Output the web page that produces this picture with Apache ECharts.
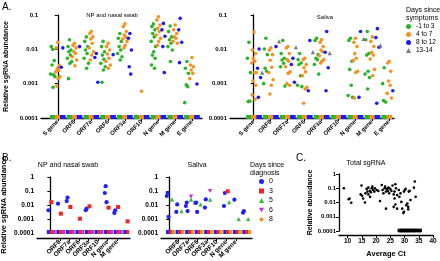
<!DOCTYPE html>
<html>
<head>
<meta charset="utf-8">
<script src="https://cdn.jsdelivr.net/npm/echarts@6/dist/echarts.min.js"></script>
<style>
html, body { margin: 0; padding: 0; background: #fff; }
#main { width: 440px; height: 261px; }
</style>
</head>
<body>
<div id="main"></div>
<script>
// categories and tick labels
var genes = ['S gene', 'ORF8', 'ORF7a', 'ORF6', 'ORF3a', 'ORF10', 'N gene', 'M gene', 'E gene'];
var logLabels = { '-4': '0.0001', '-3': '0.001', '-2': '0.01', '-1': '0.1', '0': '1' };
var ctTicks = [10, 15, 20, 25, 30, 35, 40];
var lodValue = 0.0001;

// A. NP and nasal swab, days since symptoms (one list per gene)
var npEarly = [
    [0.01, 0.012, 0.0047, 0.0035, 0.0018, 0.0019, 0.0016, 0.00078],
    [0.019, 0.012, 0.0096, 0.0085, 0.0068, 0.0055, 0.0044, 0.0039, 0.0014],
    [0.023, 0.017, 0.012, 0.0096, 0.0076, 0.0055, 0.0039, 0.0028],
    [0.017, 0.012, 0.0085, 0.0068, 0.0051, 0.0039, 0.0031, 0.0025, 0.0011],
    [0.029, 0.021, 0.017, 0.012, 0.0096, 0.0076, 0.0061, 0.0049],
    [],
    [0.055, 0.046, 0.037, 0.029, 0.023, 0.017, 0.012, 0.0085, 0.0068, 0.0055, 0.0035, 0.0028],
    [0.048, 0.033, 0.023, 0.019, 0.015, 0.012, 0.0096, 0.0044],
    [0.0044, 0.0028, 0.002, 0.00092, 0.00082, 0.00028]
];
var npMid = [
    [0.016, 0.011, 0.0034, 0.0027, 0.0024, 0.0022, 0.0016, 0.0014, 0.00085],
    [0.015, 0.013, 0.011, 0.0085, 0.0076, 0.0061, 0.0049, 0.0033],
    [0.033, 0.029, 0.023, 0.02, 0.015, 0.011, 0.0085, 0.0068, 0.0049],
    [0.015, 0.012, 0.0096, 0.0073, 0.0055, 0.0044, 0.0035, 0.0028],
    [0.055, 0.046, 0.033, 0.026, 0.023, 0.02, 0.017, 0.013, 0.011],
    [0.0006],
    [0.089, 0.071, 0.051, 0.041, 0.033, 0.026, 0.021, 0.017, 0.013],
    [0.051, 0.037, 0.029, 0.023, 0.021, 0.017, 0.015],
    [0.0058, 0.0035, 0.0031, 0.0025, 0.002, 0.0014]
];
var npLate = [
    [0.011, 0.003],
    [0.012],
    [0.0076, 0.0058, 0.0011],
    [0.007],
    [0.029, 0.021, 0.0096, 0.0031, 0.0019],
    [],
    [0.057, 0.037, 0.024, 0.012, 0.0021],
    [0.08, 0.037, 0.016, 0.0041],
    [0.00098]
];

// A. Saliva
var salEarly = [
    [0.016, 0.0055, 0.0021, 0.0003, 0.00031],
    [0.021, 0.0102, 0.007, 0.0028, 0.0023, 0.001],
    [0.018, 0.0075, 0.0055, 0.0049, 0.0039, 0.0031, 0.00085],
    [0.0075, 0.005, 0.004, 0.0036, 0.0017, 0.0009, 0.00082],
    [0.021, 0.018, 0.007, 0.0055, 0.005, 0.0036, 0.0019],
    [],
    [0.021, 0.018, 0.0045, 0.0026, 0.0009, 0.00045, 0.0004],
    [0.033, 0.019, 0.0075, 0.0068, 0.0023, 0.0019, 0.0015, 0.0007],
    [0.0029, 0.001, 0.00029, 0.00032]
];
var salMid = [
    [0.032, 0.0095, 0.0075, 0.0055, 0.0045, 0.004, 0.0021, 0.0021, 0.0012, 0.0009, 0.00047, 0.00035],
    [0.011, 0.0095, 0.007, 0.0048, 0.003, 0.0021, 0.0013, 0.0009, 0.0005],
    [0.012, 0.011, 0.0075, 0.005, 0.0045, 0.0031, 0.0022, 0.002, 0.001, 0.0009],
    [0.0055, 0.005, 0.0036, 0.0029, 0.0022, 0.0017, 0.00078, 0.0007, 0.00027],
    [0.019, 0.016, 0.012, 0.0095, 0.0085, 0.0065, 0.005, 0.0045, 0.004],
    [],
    [0.021, 0.016, 0.012, 0.0075, 0.0055, 0.0047, 0.0023, 0.0021, 0.00038],
    [0.023, 0.017, 0.012, 0.0082, 0.0068, 0.0052, 0.0026, 0.0017],
    [0.0045, 0.004, 0.0023, 0.0012, 0.0009, 0.00052, 0.00038]
];
var salLate = [
    [0.0102, 0.0028, 0.0015, 0.0004],
    [0.012],
    [0.0055, 0.0036, 0.0011],
    [0.018, 0.00062],
    [0.033, 0.0082, 0.0029, 0.00062],
    [],
    [0.033, 0.0004],
    [0.04, 0.022, 0.0115, 0.00027],
    [0.0029, 0.00062]
];
var salLatest = [[0.0021], [0.017], [0.0115], [0.0083], [0.0078], [], [0.02], [0.013], [0.0011]];

// B. days since diagnosis
var bNpDay0 = [[0.0042], [0.0125], [0.034, 0.019], [], [0.0055, 0.0042], [], [0.22, 0.072, 0.016], [0.0042, 0.0027], []];
var bNpDay3 = [[0.016], [0.0024], [0.0072], [0.00105], [0.008], [], [0.0065], [0.0072], [0.00068]];
var bNpDay6 = [[], [], [], [], [], [], [], [], []];
var bSalDay0 = [[0.072, 0.044, 0.0014], [0.011, 0.0032], [0.015, 0.0085, 0.0037], [0.015, 0.014, 0.0032], [0.025, 0.0065], [], [0.072, 0.0085], [0.024], [0.0037, 0.0028]];
var bSalDay3 = [[], [], [], [], [], [], [0.095], [], []];
var bSalDay5 = [[0.025], [0.0037], [0.024], [0.011], [0.024], [], [0.016], [0.001], [0.001]];
var bSalDay6 = [[], [], [0.04], [], [0.1], [], [], [], []];
var bSalDay8 = [[], [], [], [], [], [], [], [], []];

// C. total sgRNA vs average Ct
var ctDetected = [8.7, 10.4, 10.7, 11.3, 14.9, 14.6, 15.1, 15.5, 16.1, 16.7, 17.0, 17.3, 17.9, 18.5, 18.7, 19.0, 19.6, 19.4,
    16.3, 17.3, 18.2, 17.9, 20.2, 20.8, 21.4, 22.0, 22.3, 22.6, 23.0, 23.2, 23.8, 24.2, 24.4, 23.5, 24.6, 25.0, 25.4, 25.8,
    26.2, 26.5, 26.8, 27.0, 27.4, 26.5, 28.0, 28.6, 28.2, 28.9, 29.8, 30.1, 30.4, 30.6, 23.5, 29.2, 29.8, 31.0, 31.3, 31.5,
    31.8, 32.1, 31.3, 33.3, 33.9, 33.6, 26.8, 27.4, 26.2, 29.6];
var abundDetected = [0.1, 0.017, 0.019, 0.0095, 0.155, 0.037, 0.03, 0.019, 0.01, 0.09, 0.058, 0.11, 0.065, 0.1, 0.13, 0.076, 0.1, 0.058,
    0.044, 0.037, 0.052, 0.025, 0.076, 0.065, 0.0125, 0.17, 0.076, 0.044, 0.1, 0.13, 0.09, 0.065, 0.11, 0.058, 0.044, 0.09, 0.065, 0.155,
    0.037, 0.058, 0.19, 0.1, 0.033, 0.019, 0.076, 0.044, 0.025, 0.011, 0.058, 0.076, 0.09, 0.0065, 0.0037, 0.0037, 0.0022, 0.0085, 0.0049, 0.058,
    0.065, 0.015, 0.0033, 0.11, 0.025, 0.3, 0.0072, 0.0037, 0.0049, 0.0018];
var ctUndetected = [28.1, 28.6, 29.0, 29.4, 29.9, 30.3, 30.8, 31.2, 31.7, 32.0, 32.6, 33.1, 33.5, 34.0, 34.6, 35.2, 35.6];

var FONT = 'Liberation Sans';
var spread = [0, -0.09, 0.09, -0.04, 0.05, -0.13, 0.13, 0.02, -0.06, 0.1, -0.11, 0.07];

function groupData(byGene, shift, stripW, withStrip) {
    var out = [];
    if (withStrip) {
        genes.forEach(function (g, gi) {
            out.push({ value: [gi + shift, lodValue], symbol: 'rect', symbolSize: [stripW, 4], symbolOffset: [0, -1] });
        });
    }
    byGene.forEach(function (vals, gi) {
        vals.forEach(function (v, k) {
            out.push([gi + shift + spread[k % spread.length], v]);
        });
    });
    return out;
}

function scat(name, grid, data, color, symbol, size) {
    return {
        type: 'scatter', name: name, xAxisIndex: grid, yAxisIndex: grid,
        data: data, symbol: symbol, symbolSize: size,
        itemStyle: { color: color, opacity: 1 }, silent: true
    };
}

function geneAxis(grid, min, max, fs, offset) {
    var idx = genes.map(function (g, i) { return i; });
    return {
        type: 'value', gridIndex: grid, min: min, max: max, offset: offset,
        axisLine: { onZero: false, lineStyle: { color: '#000', width: 1.3 } },
        axisTick: { customValues: idx, length: 3, lineStyle: { color: '#000' } },
        axisLabel: {
            customValues: idx, rotate: 45, margin: 3, fontSize: fs, fontWeight: 'bold',
            color: '#000', fontFamily: FONT,
            formatter: function (v) { return genes[Math.round(v)]; }
        },
        splitLine: { show: false }
    };
}

function logAxis(grid, max, fs, name, gap, nfs) {
    return {
        type: 'log', logBase: 10, gridIndex: grid, min: lodValue, max: max,
        axisLine: { show: true, lineStyle: { color: '#000', width: 1.3 } },
        axisTick: { show: true, length: 3, lineStyle: { color: '#000' } },
        axisLabel: {
            fontSize: fs, fontWeight: 'bold', color: '#000', margin: 3, fontFamily: FONT,
            formatter: function (v) { return logLabels[Math.round(Math.log10(v))]; }
        },
        splitLine: { show: false },
        name: name, nameLocation: 'middle', nameGap: gap,
        nameTextStyle: { fontSize: nfs, fontWeight: 'bold', color: '#000', fontFamily: FONT }
    };
}

function lodLine() {
    return {
        silent: true, symbol: 'none', label: { show: false },
        lineStyle: { color: '#888', type: 'dotted', width: 1 },
        data: [{ yAxis: lodValue }]
    };
}

var green = '#25b525', orange = '#f8901f', blue = '#1a1af5', gray = '#7a7a7a';
var bBlue = '#1f1fff', bRed = '#f52020', bGreen = '#2fbf2f', bPurple = '#c02ce0', bOrange = '#f8901f';
var invTri = 'path://M0,0 L10,0 L5,9 Z';

var series = [];
// A left
var s0 = scat('-1 to 3', 0, groupData(npEarly, -0.3, 5.6, true), green, 'circle', 3.6);
s0.markLine = lodLine();
series.push(s0);
series.push(scat('4 to 7', 0, groupData(npMid, 0.0, 5.6, true), orange, 'circle', 3.6));
series.push(scat('8 to 12', 0, groupData(npLate, 0.3, 5.6, true), blue, 'circle', 3.6));
// A right
var s1 = scat('-1 to 3', 1, groupData(salEarly, -0.28, 5.6, true), green, 'circle', 3.6);
s1.markLine = lodLine();
series.push(s1);
series.push(scat('4 to 7', 1, groupData(salMid, 0.02, 5.6, true), orange, 'circle', 3.6));
series.push(scat('8 to 12', 1, groupData(salLate, 0.32, 5.6, true), blue, 'circle', 3.6));
series.push(scat('13-14', 1, groupData(salLatest, 0.5, 5, false), gray, 'triangle', 4.2));
// B left
var s2 = scat('0', 2, groupData(bNpDay0, -0.2, 3.2, true), bBlue, 'circle', 4.2);
s2.markLine = lodLine();
series.push(s2);
series.push(scat('3', 2, groupData(bNpDay3, 0.1, 3.2, true), bRed, 'rect', 4));
series.push(scat('6', 2, groupData(bNpDay6, 0.4, 3.2, true), bPurple, invTri, 4.2));
// B right
var s3 = scat('0', 3, groupData(bSalDay0, -0.15, 3.2, true), bBlue, 'circle', 4.2);
s3.markLine = lodLine();
series.push(s3);
series.push(scat('3', 3, groupData(bSalDay3, 0.15, 3.2, true), bRed, 'rect', 4));
series.push(scat('5', 3, groupData(bSalDay5, 0.3, 3.2, false), bGreen, 'triangle', 4.2));
series.push(scat('6', 3, groupData(bSalDay6, 0.3, 3.2, false), bPurple, invTri, 4.2));
series.push(scat('8', 3, groupData(bSalDay8, 0.45, 3.2, true), bOrange, 'diamond', 4.6));
// C
var cPts = ctDetected.map(function (ct, i) { return [ct, abundDetected[i]]; });
var cNd = ctUndetected.map(function (ct) { return { value: [ct, lodValue], symbol: 'rect', symbolSize: [3, 3.5], symbolOffset: [0, -0.5] }; });
var s4 = scat('total', 4, cNd.concat(cPts), '#000', 'circle', 2.6);
s4.markLine = lodLine();
series.push(s4);

var option = {
    backgroundColor: '#fff',
    animation: false,
    textStyle: { fontFamily: FONT },
    grid: [
        { left: 41, top: 15, width: 161, height: 103, containLabel: false, outerBoundsMode: 'none' },
        { left: 230, top: 15, width: 164, height: 103, containLabel: false, outerBoundsMode: 'none' },
        { left: 37, top: 177, width: 93, height: 56, containLabel: false, outerBoundsMode: 'none' },
        { left: 161, top: 177, width: 91, height: 56, containLabel: false, outerBoundsMode: 'none' },
        { left: 339, top: 174, width: 94, height: 57, containLabel: false, outerBoundsMode: 'none' }
    ],
    xAxis: [
        geneAxis(0, -1, 8.6, 6, 0),
        geneAxis(1, -1.4, 8.3, 6, 0),
        geneAxis(2, -1.4, 8.35, 6.5, 5),
        geneAxis(3, -0.85, 8.7, 6.5, 5),
        {
            type: 'value', gridIndex: 4, min: 7, max: 40, offset: 4,
            axisLine: { onZero: false, lineStyle: { color: '#000', width: 1.3 } },
            axisTick: { customValues: ctTicks, length: 3, lineStyle: { color: '#000' } },
            axisLabel: { customValues: ctTicks, fontSize: 6.5, fontWeight: 'bold', color: '#000', margin: 3, fontFamily: FONT },
            splitLine: { show: false },
            name: 'Average Ct', nameLocation: 'middle', nameGap: 15,
            nameTextStyle: { fontSize: 7.5, fontWeight: 'bold', color: '#000', fontFamily: FONT }
        }
    ],
    yAxis: [
        logAxis(0, 0.1, 6, 'Relative sgRNA abundance', 31, 7),
        logAxis(1, 0.1, 6, '', 20, 7),
        logAxis(2, 1, 6.5, 'Relative sgRNA abundance', 29, 7.5),
        logAxis(3, 1, 6.5, '', 20, 7),
        logAxis(4, 1, 6, 'Relative abundance', 24, 7)
    ],
    legend: [
        {
            data: ['-1 to 3', '4 to 7', '8 to 12', '13-14'],
            orient: 'vertical', left: 406, top: 23, padding: 0,
            itemWidth: 5, itemHeight: 5, itemGap: 1,
            textStyle: { fontSize: 6.5, color: '#000', fontFamily: FONT }
        },
        {
            data: ['0', '3', '5', '6', '8'],
            orient: 'vertical', left: 259, top: 178, padding: 0,
            itemWidth: 5, itemHeight: 5, itemGap: 2.5,
            textStyle: { fontSize: 7, color: '#000', fontFamily: FONT }
        }
    ],
    graphic: [
        { type: 'text', x: 2, y: 2, style: { text: 'A.', font: '10px ' + FONT, fill: '#000' } },
        { type: 'text', x: 2, y: 153, style: { text: 'B.', font: '10px ' + FONT, fill: '#000' } },
        { type: 'text', x: 296, y: 153, style: { text: 'C.', font: '10px ' + FONT, fill: '#000' } },
        { type: 'text', x: 112, y: 15, style: { text: 'NP and nasal swab', font: '6px ' + FONT, fill: '#000', textAlign: 'center', textVerticalAlign: 'middle' } },
        { type: 'text', x: 325, y: 17, style: { text: 'Saliva', font: '6px ' + FONT, fill: '#000', textAlign: 'center', textVerticalAlign: 'middle' } },
        { type: 'text', x: 406, y: 6, style: { text: 'Days since\nsymptoms', font: '7px ' + FONT, fill: '#000', lineHeight: 8 } },
        { type: 'text', x: 68, y: 165, style: { text: 'NP and nasal swab', font: '7px ' + FONT, fill: '#000', textAlign: 'center', textVerticalAlign: 'middle' } },
        { type: 'text', x: 197, y: 165, style: { text: 'Saliva', font: '7px ' + FONT, fill: '#000', textAlign: 'center', textVerticalAlign: 'middle' } },
        { type: 'text', x: 250, y: 161, style: { text: 'Days since\ndiagnosis', font: '7px ' + FONT, fill: '#000', lineHeight: 8 } },
        { type: 'text', x: 366, y: 163, style: { text: 'Total sgRNA', font: '7px ' + FONT, fill: '#000', textAlign: 'center', textVerticalAlign: 'middle' } }
    ],
    series: series
};

var myChart = echarts.init(document.getElementById('main'));
myChart.setOption(option);
</script>
</body>
</html>
